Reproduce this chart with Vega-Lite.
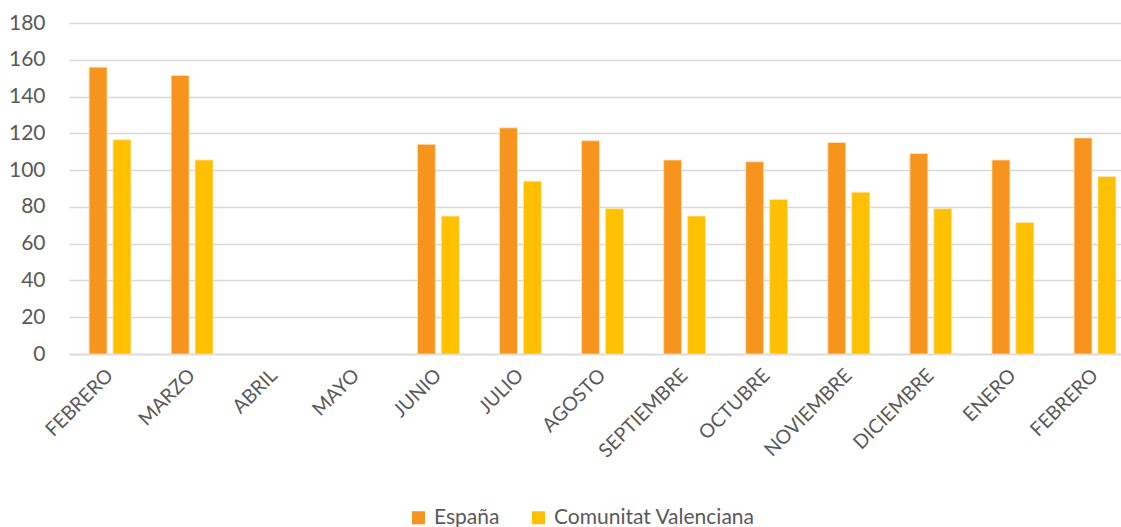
{
  "$schema": "https://vega.github.io/schema/vega-lite/v6.json",
  "autosize": {"type": "none"},
  "padding": {"left": 69, "top": 23, "right": 0, "bottom": 173},
  "width": 1067,
  "height": 331,
  "background": "white",
  "data": {
    "values": [
      {"periodo": "FEBRERO 2020", "serie": "España", "valor": 156},
      {"periodo": "FEBRERO 2020", "serie": "Comunitat Valenciana", "valor": 116.5},
      {"periodo": "MARZO 2020", "serie": "España", "valor": 151.5},
      {"periodo": "MARZO 2020", "serie": "Comunitat Valenciana", "valor": 105.5},
      {"periodo": "ABRIL 2020", "serie": "España", "valor": null},
      {"periodo": "ABRIL 2020", "serie": "Comunitat Valenciana", "valor": null},
      {"periodo": "MAYO 2020", "serie": "España", "valor": null},
      {"periodo": "MAYO 2020", "serie": "Comunitat Valenciana", "valor": null},
      {"periodo": "JUNIO 2020", "serie": "España", "valor": 114},
      {"periodo": "JUNIO 2020", "serie": "Comunitat Valenciana", "valor": 75},
      {"periodo": "JULIO 2020", "serie": "España", "valor": 123},
      {"periodo": "JULIO 2020", "serie": "Comunitat Valenciana", "valor": 94},
      {"periodo": "AGOSTO 2020", "serie": "España", "valor": 116},
      {"periodo": "AGOSTO 2020", "serie": "Comunitat Valenciana", "valor": 79},
      {"periodo": "SEPTIEMBRE 2020", "serie": "España", "valor": 105.5},
      {"periodo": "SEPTIEMBRE 2020", "serie": "Comunitat Valenciana", "valor": 75},
      {"periodo": "OCTUBRE 2020", "serie": "España", "valor": 104.5},
      {"periodo": "OCTUBRE 2020", "serie": "Comunitat Valenciana", "valor": 84},
      {"periodo": "NOVIEMBRE 2020", "serie": "España", "valor": 115},
      {"periodo": "NOVIEMBRE 2020", "serie": "Comunitat Valenciana", "valor": 88},
      {"periodo": "DICIEMBRE 2020", "serie": "España", "valor": 109},
      {"periodo": "DICIEMBRE 2020", "serie": "Comunitat Valenciana", "valor": 79},
      {"periodo": "ENERO 2021", "serie": "España", "valor": 105.5},
      {"periodo": "ENERO 2021", "serie": "Comunitat Valenciana", "valor": 71.5},
      {"periodo": "FEBRERO 2021", "serie": "España", "valor": 117.5},
      {"periodo": "FEBRERO 2021", "serie": "Comunitat Valenciana", "valor": 96.5}
    ]
  },
  "mark": {"type": "bar", "stroke": "#ffe4b8", "strokeWidth": 0.8},
  "encoding": {
    "x": {
      "field": "periodo",
      "type": "nominal",
      "scale": {
        "domain": ["FEBRERO 2020", "MARZO 2020", "ABRIL 2020", "MAYO 2020", "JUNIO 2020", "JULIO 2020", "AGOSTO 2020", "SEPTIEMBRE 2020", "OCTUBRE 2020", "NOVIEMBRE 2020", "DICIEMBRE 2020", "ENERO 2021", "FEBRERO 2021"],
        "paddingInner": 0.49,
        "paddingOuter": 0.245
      },
      "axis": {
        "title": null,
        "labelExpr": "split(datum.label, ' ')[0]",
        "labelAngle": -45,
        "labelAlign": "right",
        "labelBaseline": "middle",
        "labelPadding": 18,
        "labelFont": "Lato",
        "labelFontSize": 19.5,
        "labelColor": "#595959",
        "labelLimit": 0,
        "ticks": false,
        "domainColor": "#D9D9D9",
        "domainWidth": 1.5,
        "grid": false
      }
    },
    "xOffset": {
      "field": "serie",
      "type": "nominal",
      "sort": ["España", "Comunitat Valenciana"],
      "scale": {"paddingInner": 0.25, "paddingOuter": 0}
    },
    "y": {
      "field": "valor",
      "type": "quantitative",
      "scale": {"domain": [0, 180], "nice": false},
      "axis": {
        "title": null,
        "values": [0, 20, 40, 60, 80, 100, 120, 140, 160, 180],
        "domain": false,
        "ticks": false,
        "labelPadding": 24,
        "labelFont": "Lato",
        "labelFontSize": 21,
        "labelColor": "#595959",
        "gridColor": "#D9D9D9",
        "gridWidth": 1.5
      }
    },
    "color": {
      "field": "serie",
      "type": "nominal",
      "sort": ["España", "Comunitat Valenciana"],
      "scale": {"domain": ["España", "Comunitat Valenciana"], "range": ["#F7941D", "#FFC000"]},
      "legend": {
        "title": null,
        "orient": "none",
        "direction": "horizontal",
        "legendX": 339,
        "legendY": 484,
        "symbolType": "square",
        "symbolSize": 169,
        "symbolStrokeWidth": 0,
        "labelFont": "Lato",
        "labelFontSize": 21,
        "labelColor": "#595959",
        "labelOffset": 5,
        "labelLimit": 0,
        "columnPadding": 28
      }
    }
  },
  "config": {
    "view": {"stroke": null}
  }
}
